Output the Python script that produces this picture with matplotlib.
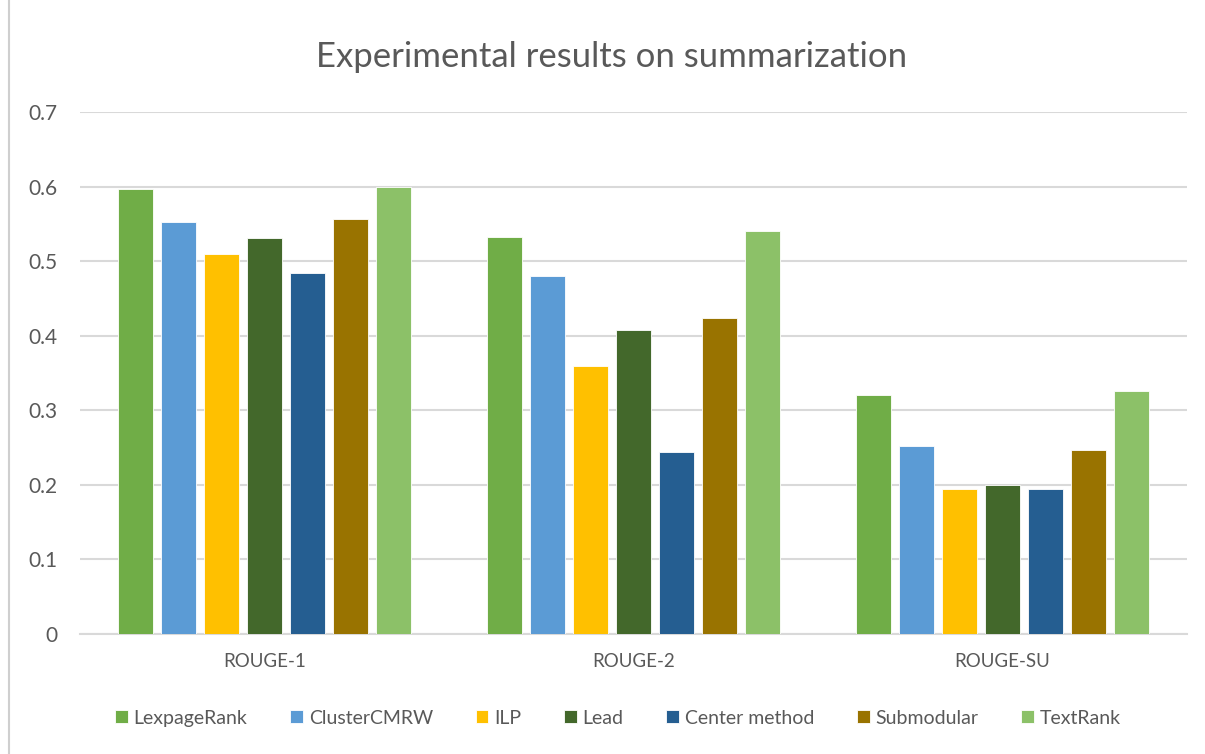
import numpy as np
import matplotlib.pyplot as plt
from matplotlib.lines import Line2D

plt.rcParams['font.family'] = ['Lato', 'DejaVu Sans']

# ROUGE scores per method
metrics = ['ROUGE-1', 'ROUGE-2', 'ROUGE-SU']
methods = ['LexpageRank', 'ClusterCMRW', 'ILP', 'Lead', 'Center method', 'Submodular', 'TextRank']
lexpagerank = [0.597, 0.533, 0.321]
clustercmrw = [0.552, 0.480, 0.252]
ilp = [0.510, 0.359, 0.194]
lead = [0.531, 0.408, 0.200]
center_method = [0.484, 0.244, 0.194]
submodular = [0.556, 0.424, 0.247]
textrank = [0.600, 0.540, 0.326]

series = [lexpagerank, clustercmrw, ilp, lead, center_method, submodular, textrank]
colors = ['#70ad47', '#5b9bd5', '#ffc000', '#43682b', '#255e91', '#997300', '#8cc168']

fig = plt.figure(figsize=(12.05, 7.54), dpi=100)
ax = fig.add_axes([80 / 1205, 1 - 634 / 754, 1107 / 1205, 522 / 754])

x = np.arange(len(metrics))
pitch = 0.1165
width = 0.095
for i, (vals, col) in enumerate(zip(series, colors)):
    ax.bar(x + (i - 3) * pitch, vals, width, color=col, edgecolor='white',
           linewidth=0.6, label=methods[i], zorder=3)

ax.set_xlim(-0.5, 2.5)
ax.set_ylim(0, 0.7)
ax.set_yticks(np.arange(0, 0.71, 0.1))
ax.set_yticklabels(['0', '0.1', '0.2', '0.3', '0.4', '0.5', '0.6', '0.7'])
ax.set_xticks(x)
ax.set_xticklabels(metrics)
ax.tick_params(axis='both', length=0, colors='#595959')
ax.tick_params(axis='x', pad=14, labelsize=13.5)
ax.tick_params(axis='y', pad=16, labelsize=15)
ax.grid(axis='y', color='#d9d9d9', linewidth=1.5, zorder=0)
for s in ['top', 'right', 'left']:
    ax.spines[s].set_visible(False)
ax.spines['bottom'].set_color('#d9d9d9')
ax.spines['bottom'].set_linewidth(1.5)

fig.text(612 / 1205, 1 - 57 / 754, 'Experimental results on summarization', ha='center',
         va='center', fontsize=25, color='#595959')

leg = ax.legend(loc='center', bbox_to_anchor=(0.486, -0.161), ncol=7, frameon=False,
                fontsize=14, handlelength=0.65, handleheight=0.65, handletextpad=0.3,
                columnspacing=2.2, labelcolor='#595959')

# chart outline on the left edge
fig.lines.append(Line2D([9 / 1205, 9 / 1205], [0, 1], transform=fig.transFigure,
                        color='#cfcfcf', linewidth=1.5))

fig.savefig('out.png', dpi=100, facecolor='white')
